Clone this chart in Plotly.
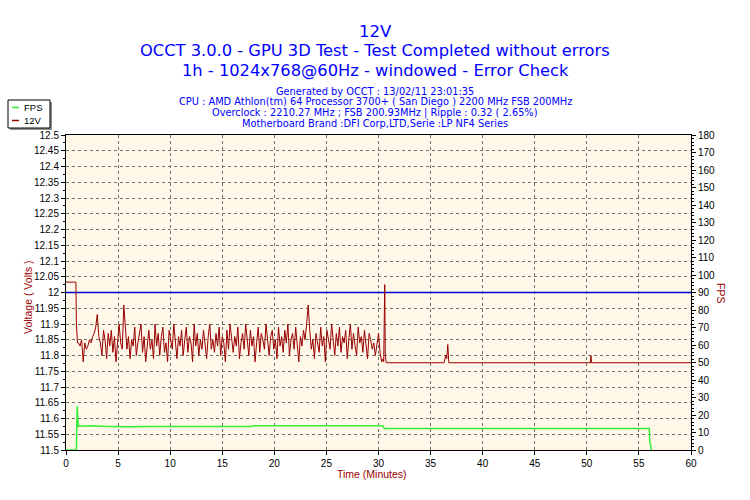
import plotly.graph_objects as go

# ---------------- data ----------------
# 12V rail (volts) - start segment
V_START_T = [0.0, 0.95, 1.0, 1.05, 1.1]
V_START_V = [12.033, 12.033, 11.90, 11.84, 11.84]

# noisy segment sampled every 0.15 min from 1.2 min
NOISE_T0 = 1.2
NOISE_DT = 0.15
V_NOISE_CENTS = [
    84, 83, 85, 78, 84, 82, 83, 85, 84, 86,
    87, 89, 93, 86, 84, 80, 88, 85, 79, 87,
    83, 88, 81, 86, 78, 85, 90, 84, 82, 96,
    88, 82, 86, 79, 85, 83, 89, 80, 84, 87,
    90, 81, 86, 78, 84, 88, 82, 85, 79, 90,
    83, 87, 80, 86, 89, 81, 84, 78, 88, 85,
    82, 90, 84, 79, 86, 83, 88, 80, 85, 89,
    81, 86, 84, 78, 90, 83, 87, 80, 85, 82,
    88, 84, 79, 86, 90, 82, 85, 81, 87, 83,
    89, 80, 86, 84, 78, 88, 82, 90, 85, 81,
    86, 83, 89, 79, 84, 87, 82, 90, 85, 80,
    88, 83, 86, 78, 84, 89, 81, 87, 85, 82,
    90, 84, 80, 86, 88, 82, 85, 79, 89, 83,
    86, 81, 88, 84, 90, 80, 85, 87, 82, 89,
    84, 78, 86, 83, 88, 85, 90, 96, 88, 82,
    85, 79, 87, 84, 81, 89, 83, 86, 78, 88,
    85, 82, 90, 84, 80, 87, 83, 89, 81, 86,
    84, 88, 79, 85, 90, 82, 87, 83, 80, 89,
    84, 86, 81, 88, 83, 79, 87, 85, 82, 84,
    80, 83, 87, 81, 78, 79,
]

# tail segment
V_TAIL_T = [30.5, 30.55, 30.6, 30.65, 30.75, 36.3, 36.45, 36.55, 36.65, 36.75, 50.35, 50.4, 50.45, 60.0]
V_TAIL_V = [11.78, 11.91, 12.025, 11.80, 11.777, 11.777, 11.80, 11.79, 11.835, 11.777, 11.777, 11.80, 11.777, 11.777]

# FPS
FPS_T = [0, 1.0, 1.03, 1.08, 1.12, 1.18, 2.5, 4, 6, 6.1, 8, 10, 10.2, 12, 14, 15, 16, 17.8, 18,
         22, 26, 27, 30.4, 30.55, 40, 50, 56.0, 56.03, 56.2]
FPS_V = [0, 0, 12, 25, 19, 13.6, 13.8, 13.5, 13.7, 13.3, 13.4, 13.2, 13.4, 13.5, 13.3, 13.6, 13.4, 13.5, 13.9,
         13.8, 13.9, 13.7, 13.9, 12.3, 12.3, 12.3, 12.3, 5.5, 0]

NOMINAL_V = 12.0
X_RANGE = [0, 60]

V_TICKVALS = [11.5, 11.55, 11.6, 11.65, 11.7, 11.75, 11.8, 11.85, 11.9, 11.95, 12.0,
              12.05, 12.1, 12.15, 12.2, 12.25, 12.3, 12.35, 12.4, 12.45, 12.5]
V_TICKTEXT = ["11.5", "11.55", "11.6", "11.65", "11.7", "11.75", "11.8", "11.85", "11.9", "11.95", "12",
              "12.05", "12.1", "12.15", "12.2", "12.25", "12.3", "12.35", "12.4", "12.45", "12.5"]

TITLE_LINES = [
    "12V",
    "OCCT 3.0.0 - GPU 3D Test - Test Completed without errors",
    "1h - 1024x768@60Hz - windowed - Error Check",
]
INFO_LINES = [
    "Generated by OCCT : 13/02/11 23:01:35",
    "CPU : AMD Athlon(tm) 64 Processor 3700+ ( San Diego ) 2200 MHz FSB 200MHz",
    "Overclock : 2210.27 MHz ; FSB 200.93MHz | Ripple : 0.32 ( 2.65%)",
    "Motherboard Brand :DFI Corp,LTD,Serie :LP NF4 Series",
]
LEGEND_NAMES = ["FPS", "12V"]

# ---------------- build series ----------------
v_noise_t = [round(NOISE_T0 + NOISE_DT * i, 3) for i in range(len(V_NOISE_CENTS))]
v_noise_v = [11 + c / 100 for c in V_NOISE_CENTS]
volt_t = V_START_T + v_noise_t + V_TAIL_T
volt_v = V_START_V + v_noise_v + V_TAIL_V

FONT = "Liberation Sans"
TFONT = "DejaVu Sans"
DARKRED = "#990000"
GREEN = "#33EE33"

L, R, T, B = 66, 59, 135, 50
W, H = 750, 500
PW, PH = W - L - R, H - T - B

def px_x(x):
    return (x - L) / PW

def px_y(y):
    return (H - B - y) / PH

fig = go.Figure()
fig.add_trace(go.Scatter(x=X_RANGE, y=[NOMINAL_V, NOMINAL_V], mode="lines",
                         line=dict(color="#0000CC", width=1.5), showlegend=False,
                         hoverinfo="skip", yaxis="y"))
fig.add_trace(go.Scatter(x=volt_t, y=volt_v, mode="lines", name=LEGEND_NAMES[1],
                         line=dict(color=DARKRED, width=1), yaxis="y", showlegend=False))
fig.add_trace(go.Scatter(x=FPS_T, y=FPS_V, mode="lines", name=LEGEND_NAMES[0],
                         line=dict(color=GREEN, width=1.5), yaxis="y2", showlegend=False))

annotations = []
title_y = [31, 50, 70]
title_size = [16.5, 16.3, 16.3]
for txt, yy, fs in zip(TITLE_LINES, title_y, title_size):
    annotations.append(dict(text=txt, xref="paper", yref="paper", x=px_x(375), y=px_y(yy),
                            xanchor="center", yanchor="middle", showarrow=False,
                            font=dict(family=TFONT, size=fs, color="#0000FF")))
for i, txt in enumerate(INFO_LINES):
    annotations.append(dict(text=txt, xref="paper", yref="paper", x=px_x(375), y=px_y(91 + 11 * i),
                            xanchor="center", yanchor="middle", showarrow=False,
                            font=dict(family=TFONT, size=9.8, color="#0000FF")))
annotations.append(dict(text="Voltage ( Volts )", xref="paper", yref="paper", x=px_x(28), y=px_y(297),
                        xanchor="center", yanchor="middle", showarrow=False, textangle=-90,
                        font=dict(family=FONT, size=10.5, color=DARKRED)))
annotations.append(dict(text="FPS", xref="paper", yref="paper", x=px_x(721), y=px_y(293),
                        xanchor="center", yanchor="middle", showarrow=False, textangle=90,
                        font=dict(family=FONT, size=10.5, color=DARKRED)))
annotations.append(dict(text="Time (Minutes)", xref="paper", yref="paper", x=px_x(372), y=px_y(474),
                        xanchor="center", yanchor="middle", showarrow=False,
                        font=dict(family=FONT, size=10.5, color=DARKRED)))

# custom compact legend box
shapes = [
    dict(type="rect", xref="paper", yref="paper", x0=px_x(10), x1=px_x(52), y0=px_y(130), y1=px_y(102),
         line=dict(width=0), fillcolor="#909090", layer="above"),
    dict(type="rect", xref="paper", yref="paper", x0=px_x(8), x1=px_x(50), y0=px_y(128), y1=px_y(100),
         line=dict(color="black", width=1), fillcolor="white", layer="above"),
]
for i, (name, col) in enumerate(zip(LEGEND_NAMES, [GREEN, DARKRED])):
    yy = 107.5 + 13 * i
    shapes.append(dict(type="line", xref="paper", yref="paper", x0=px_x(12), x1=px_x(19),
                       y0=px_y(yy), y1=px_y(yy), line=dict(color=col, width=1.5), layer="above"))
    annotations.append(dict(text=name, xref="paper", yref="paper", x=px_x(22), y=px_y(yy),
                            xanchor="left", yanchor="middle", showarrow=False,
                            font=dict(family=FONT, size=9.5, color="black")))

grid = dict(showgrid=True, gridcolor="#707070", gridwidth=1, griddash="3px,3px")

fig.update_layout(
    width=W, height=H,
    margin=dict(l=L, r=R, t=T, b=B),
    paper_bgcolor="white",
    plot_bgcolor="#FFF8E9",
    font=dict(family=FONT, size=10, color="black"),
    showlegend=False,
    xaxis=dict(range=X_RANGE, dtick=5, tick0=0, showline=True, linecolor="black", linewidth=1,
               mirror=True, ticks="outside", ticklen=4, tickcolor="black", zeroline=False,
               tickfont=dict(size=10), **grid),
    yaxis=dict(range=[11.5, 12.5], tickvals=V_TICKVALS, ticktext=V_TICKTEXT,
               showline=True, linecolor="black", linewidth=1, mirror=False,
               ticks="outside", ticklen=4, tickcolor="black", zeroline=False,
               minor=dict(dtick=0.025, ticks="outside", ticklen=2, tickcolor="black", showgrid=False),
               tickfont=dict(size=10), **grid),
    yaxis2=dict(range=[0, 180], dtick=10, tick0=0, overlaying="y", side="right",
                showline=True, linecolor="black", linewidth=1, showgrid=False, zeroline=False,
                ticks="outside", ticklen=4, tickcolor="black",
                minor=dict(dtick=2, ticks="outside", ticklen=2, tickcolor="black"),
                tickfont=dict(size=10)),
    annotations=annotations,
    shapes=shapes,
)

fig.write_html("out.html")
